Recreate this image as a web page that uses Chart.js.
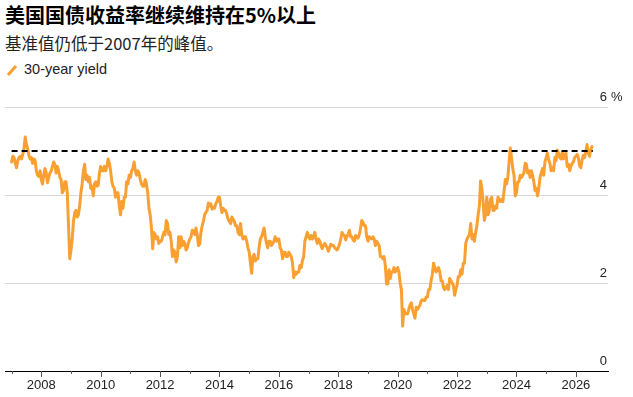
<!DOCTYPE html>
<html>
<head>
<meta charset="utf-8">
<script src="https://cdn.jsdelivr.net/npm/chart.js@4"></script>
<style>
  body { margin: 0; width: 633px; height: 397px; background: #fff; position: relative; overflow: hidden; }
  #title { position: absolute; left: 5px; top: 5px; font: bold 20px/20px "Noto Sans CJK SC", sans-serif; color: #000; white-space: nowrap; }
  #subtitle { position: absolute; left: 5px; top: 35px; font: 16.5px/17px "Noto Sans CJK SC", sans-serif; color: #222; white-space: nowrap; }
  #legend { position: absolute; left: 6px; top: 62px; font: 14.5px/14px "Liberation Sans", Arial, sans-serif; color: #222; white-space: nowrap; }
  #legend svg { position: absolute; left: 0; top: 1px; }
  #legend span { position: absolute; left: 18px; top: 0; }
  canvas { position: absolute; left: 0; top: 0; }
</style>
</head>
<body>
<div id="title">美国国债收益率继续维持在5%以上</div>
<div id="subtitle">基准值仍低于2007年的峰值。</div>
<div id="legend"><svg width="14" height="14"><line x1="2" y1="12" x2="10" y2="3" stroke="#faa032" stroke-width="3"/></svg><span>30-year yield</span></div>
<canvas id="chart" width="633" height="397"></canvas>
<script>
// 30-year Treasury yield, % (1st, 16th)
const y2007 = [4.75, 4.88, 4.85, 4.72, 4.62, 4.78, 4.85, 4.88, 4.82, 4.92, 5.05, 5.32, 5.15, 5.05, 4.90, 4.82, 4.85, 4.72, 4.82, 4.78, 4.55, 4.45, 4.42, 4.55];
const y2008 = [4.35, 4.25, 4.45, 4.60, 4.50, 4.28, 4.40, 4.50, 4.55, 4.65, 4.75, 4.70, 4.50, 4.65, 4.55, 4.40, 4.35, 4.05, 4.10, 4.30, 4.30, 4.05, 3.30, 2.55];
const y2009 = [2.75, 3.00, 3.40, 3.60, 3.65, 3.50, 3.55, 3.75, 4.05, 4.25, 4.55, 4.70, 4.35, 4.45, 4.30, 4.40, 4.15, 4.20, 3.98, 4.25, 4.30, 4.20, 4.22, 4.50];
const y2010 = [4.65, 4.55, 4.55, 4.65, 4.55, 4.65, 4.82, 4.72, 4.55, 4.30, 4.20, 4.15, 3.95, 4.05, 4.05, 3.75, 3.55, 3.85, 3.70, 3.95, 3.95, 4.30, 4.25, 4.45];
const y2011 = [4.40, 4.55, 4.60, 4.75, 4.55, 4.45, 4.55, 4.50, 4.35, 4.25, 4.20, 4.20, 4.35, 4.25, 4.05, 3.70, 3.55, 3.25, 2.78, 3.15, 3.10, 3.00, 3.05, 2.90];
const y2012 = [2.95, 2.95, 3.05, 3.15, 3.10, 3.42, 3.35, 3.10, 3.15, 2.95, 2.60, 2.75, 2.70, 2.48, 2.60, 3.05, 2.80, 3.05, 2.85, 2.95, 2.90, 2.75, 2.80, 2.92];
const y2013 = [3.00, 3.05, 3.20, 3.18, 3.10, 3.25, 3.10, 2.85, 2.88, 3.15, 3.30, 3.40, 3.55, 3.60, 3.65, 3.82, 3.75, 3.80, 3.68, 3.72, 3.70, 3.80, 3.85, 3.95];
const y2014 = [3.95, 3.75, 3.60, 3.70, 3.65, 3.65, 3.55, 3.45, 3.40, 3.35, 3.50, 3.45, 3.40, 3.30, 3.30, 3.15, 3.10, 3.35, 3.10, 3.00, 3.05, 3.05, 2.95, 2.80];
const y2015 = [2.70, 2.45, 2.22, 2.60, 2.65, 2.50, 2.55, 2.55, 2.80, 3.00, 3.05, 3.15, 3.25, 3.05, 2.90, 2.80, 2.95, 2.95, 2.85, 2.90, 2.95, 3.05, 2.95, 3.00];
const y2016 = [3.00, 2.80, 2.75, 2.55, 2.70, 2.70, 2.60, 2.60, 2.70, 2.65, 2.60, 2.45, 2.12, 2.25, 2.20, 2.25, 2.25, 2.40, 2.35, 2.50, 2.60, 2.95, 3.05, 3.15];
const y2017 = [3.05, 3.00, 3.08, 3.00, 3.05, 3.15, 3.00, 2.90, 3.00, 2.95, 2.85, 2.78, 2.85, 2.90, 2.85, 2.80, 2.72, 2.80, 2.88, 2.85, 2.85, 2.80, 2.78, 2.75];
const y2018 = [2.80, 2.88, 3.00, 3.15, 3.10, 3.08, 2.98, 3.05, 3.12, 3.20, 3.05, 3.05, 2.98, 2.95, 3.08, 3.05, 3.02, 3.10, 3.25, 3.42, 3.38, 3.30, 3.30, 3.05];
const y2019 = [2.95, 3.05, 3.02, 3.00, 3.05, 3.00, 2.85, 2.95, 2.90, 2.85, 2.60, 2.60, 2.55, 2.60, 2.40, 1.98, 1.98, 2.30, 2.10, 2.25, 2.25, 2.35, 2.25, 2.30];
const y2020 = [2.35, 2.25, 2.00, 1.85, 1.02, 1.40, 1.30, 1.30, 1.30, 1.40, 1.50, 1.55, 1.40, 1.30, 1.20, 1.45, 1.40, 1.45, 1.50, 1.60, 1.62, 1.60, 1.60, 1.68];
const y2021 = [1.68, 1.85, 1.85, 2.05, 2.20, 2.45, 2.35, 2.25, 2.30, 2.35, 2.25, 2.05, 2.05, 1.90, 1.85, 1.90, 1.95, 1.85, 2.10, 2.05, 2.00, 1.95, 1.72, 1.85];
const y2022 = [1.95, 2.15, 2.15, 2.30, 2.20, 2.45, 2.45, 2.90, 3.00, 3.05, 3.10, 3.35, 3.00, 3.10, 2.95, 3.15, 3.30, 3.55, 3.75, 4.32, 4.15, 3.85, 3.42, 3.55];
const y2023 = [3.95, 3.55, 3.65, 3.90, 3.95, 3.65, 3.65, 3.75, 3.70, 3.95, 3.90, 3.85, 3.90, 3.85, 4.10, 4.35, 4.25, 4.40, 4.75, 5.07, 4.85, 4.60, 4.45, 3.98];
const y2024 = [4.05, 4.30, 4.30, 4.45, 4.40, 4.45, 4.50, 4.72, 4.70, 4.50, 4.55, 4.40, 4.55, 4.45, 4.30, 4.10, 4.15, 3.98, 4.15, 4.40, 4.50, 4.60, 4.45, 4.75];
const y2025 = [4.85, 4.95, 4.80, 4.72, 4.55, 4.62, 4.55, 4.85, 4.78, 5.02, 4.95, 4.85, 4.82, 4.98, 4.82, 4.92, 4.95, 4.65, 4.70, 4.55, 4.65, 4.72, 4.75, 4.85];
const y2026 = [4.88, 4.92, 4.85, 4.66, 4.62, 4.80, 4.90, 4.85, 4.98, 5.15, 4.95, 4.88, 5.02, 5.10];

const yearSeries = [y2007, y2008, y2009, y2010, y2011, y2012, y2013, y2014, y2015, y2016,
                    y2017, y2018, y2019, y2020, y2021, y2022, y2023, y2024, y2025, y2026];
const firstYear = 2007;

// 2007 peak reference line
const refLevel = 5;
const refStart = 2007.0;
const refEnd = 2026.57;

const tickYears = [2007, 2008, 2009, 2010, 2011, 2012, 2013, 2014, 2015, 2016, 2017,
                   2018, 2019, 2020, 2021, 2022, 2023, 2024, 2025, 2026];
const tickLabels = ['2008', '2010', '2012', '2014', '2016', '2018', '2020', '2022', '2024', '2026'];
const yTicks = [0, 2, 4, 6];
const yUnit = '%';

// half-month slots -> decimal year
const points = [];
yearSeries.forEach((vals, yi) => {
  vals.forEach((v, i) => {
    points.push({ x: firstYear + yi + i / 24, y: v });
  });
});

const axisTicks = {
  id: 'axisTicks',
  afterDraw(chart) {
    const { ctx, chartArea, scales } = chart;
    ctx.save();
    // x tick marks: long on labelled years
    ctx.strokeStyle = '#555';
    ctx.lineWidth = 1;
    tickYears.forEach(yr => {
      const px = Math.round(scales.x.getPixelForValue(yr)) + 0.5;
      const len = tickLabels.includes(String(yr)) ? 6 : 3;
      ctx.beginPath();
      ctx.moveTo(px, chartArea.bottom);
      ctx.lineTo(px, chartArea.bottom + len);
      ctx.stroke();
    });
    // y labels sit above their gridlines at the right edge
    ctx.fillStyle = '#222';
    ctx.font = '13px "Liberation Sans", Arial, sans-serif';
    ctx.textBaseline = 'alphabetic';
    yTicks.forEach(v => {
      const py = scales.y.getPixelForValue(v);
      ctx.textAlign = 'right';
      ctx.fillText(String(v), chartArea.right - 1, py - 6);
      if (v === yTicks[yTicks.length - 1]) {
        ctx.textAlign = 'left';
        ctx.fillText(yUnit, chartArea.right + 3, py - 6);
      }
    });
    ctx.restore();
  }
};

new Chart(document.getElementById('chart'), {
  type: 'line',
  data: {
    datasets: [
      {
        label: 'ref',
        data: [{ x: refStart, y: refLevel }, { x: refEnd, y: refLevel }],
        borderColor: '#000',
        borderWidth: 2,
        borderDash: [6, 4],
        pointRadius: 0
      },
      {
        label: '30-year yield',
        data: points,
        borderColor: '#faa032',
        borderWidth: 3,
        borderJoinStyle: 'round',
        borderCapStyle: 'round',
        pointRadius: 0,
        tension: 0
      }
    ]
  },
  options: {
    responsive: false,
    animation: false,
    devicePixelRatio: 1,
    layout: { padding: { top: 107, left: 5, right: 25, bottom: 0 } },
    plugins: { legend: { display: false }, tooltip: { enabled: false } },
    scales: {
      x: {
        type: 'linear',
        min: 2006.778,
        max: 2027.081,
        afterBuildTicks: scale => { scale.ticks = tickYears.map(v => ({ value: v })); },
        afterFit: scale => { scale.height = 26; },
        ticks: {
          autoSkip: false,
          maxRotation: 0,
          padding: 7,
          color: '#222',
          font: { family: '"Liberation Sans", Arial, sans-serif', size: 13 },
          callback: v => tickLabels.includes(String(v)) ? String(v) : ''
        },
        grid: { drawOnChartArea: false, drawTicks: false },
        border: { display: true, color: '#000', width: 1 }
      },
      y: {
        position: 'right',
        min: 0,
        max: 6,
        afterBuildTicks: scale => { scale.ticks = yTicks.map(v => ({ value: v })); },
        afterFit: scale => { scale.width = 0; },
        ticks: { display: false },
        grid: {
          drawTicks: false,
          color: c => (c.tick && c.tick.value === 0) ? 'rgba(0,0,0,0)' : '#d9d9d9',
          lineWidth: 1
        },
        border: { display: false }
      }
    }
  },
  plugins: [axisTicks]
});
</script>
</body>
</html>
